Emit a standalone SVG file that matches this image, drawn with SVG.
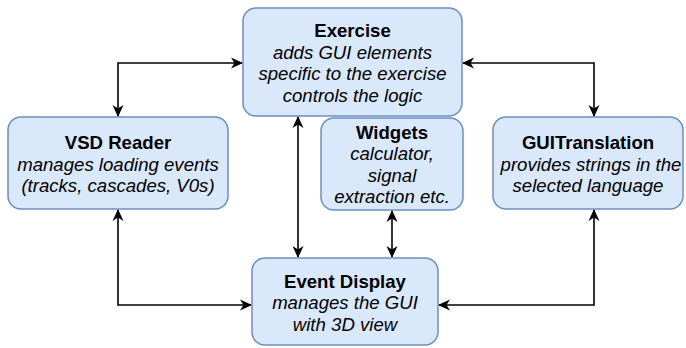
<svg xmlns="http://www.w3.org/2000/svg" width="686" height="348" viewBox="0 0 686 348">
<defs>
<marker id="arr" viewBox="0 0 12 12" refX="11" refY="6" markerWidth="12" markerHeight="12" markerUnits="userSpaceOnUse" orient="auto-start-reverse">
<path d="M0,0.5 L12,6 L0,11.5 L3.5,6 Z" fill="#000"/>
</marker>
</defs>
<style>
.box{fill:#dae8fc;stroke:#6c8ebf;stroke-width:1.5}
.t{font-family:"Liberation Sans",Arial,sans-serif;font-size:18.6px;fill:#000;text-anchor:middle}
.b{font-weight:bold}
.i{font-style:italic}
.c{fill:none;stroke:#000;stroke-width:1.6;marker-start:url(#arr);marker-end:url(#arr)}
</style>
<rect width="686" height="348" fill="#fff"/>
<g id="connectors">
<path class="c" d="M118,116 V63 H242"/>
<path class="c" d="M594,116 V63 H463"/>
<path class="c" d="M298,117 V257"/>
<path class="c" d="M392,211 V257"/>
<path class="c" d="M118,210 V305 H251"/>
<path class="c" d="M594,210 V305 H439"/>
</g>
<g id="exercise">
<rect class="box" x="243" y="8" width="219" height="108" rx="13"/>
<text class="t b" x="352.5" y="37">Exercise</text>
<text class="t i" x="352.5" y="58.5">adds GUI elements</text>
<text class="t i" x="352.5" y="80">specific to the exercise</text>
<text class="t i" x="352.5" y="101.5">controls the logic</text>
</g>
<g id="vsd-reader">
<rect class="box" x="8" y="117" width="220" height="92" rx="13"/>
<text class="t b" x="118" y="148.5">VSD Reader</text>
<text class="t i" x="118" y="170.5">manages loading events</text>
<text class="t i" x="118" y="192">(tracks, cascades, V0s)</text>
</g>
<g id="widgets">
<rect class="box" x="321" y="118" width="142" height="92" rx="13"/>
<text class="t b" x="392" y="138.5">Widgets</text>
<text class="t i" x="392" y="160">calculator,</text>
<text class="t i" x="392" y="181.5">signal</text>
<text class="t i" x="392" y="203">extraction etc.</text>
</g>
<g id="guitranslation">
<rect class="box" x="493" y="117" width="190" height="92" rx="13"/>
<text class="t b" x="588" y="148.5">GUITranslation</text>
<text class="t i" x="591" y="170.5">provides strings in the</text>
<text class="t i" x="588" y="192">selected language</text>
</g>
<g id="event-display">
<rect class="box" x="252" y="258" width="186" height="87" rx="13"/>
<text class="t b" x="345" y="287.5">Event Display</text>
<text class="t i" x="345" y="309">manages the GUI</text>
<text class="t i" x="345" y="330.5">with 3D view</text>
</g>
</svg>
